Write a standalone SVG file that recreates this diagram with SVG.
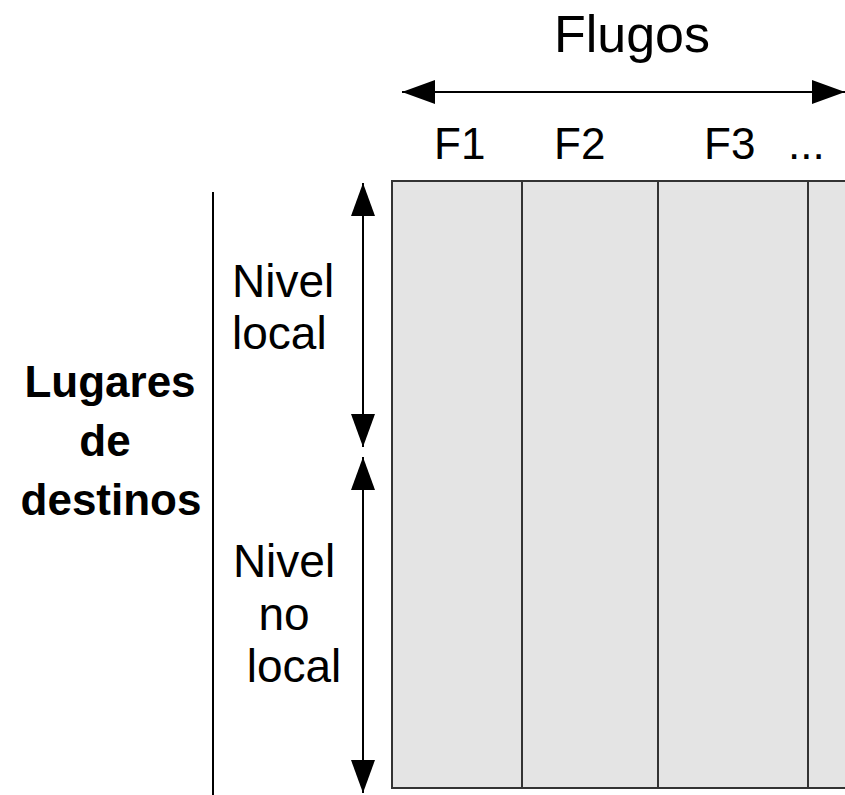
<svg xmlns="http://www.w3.org/2000/svg" width="845" height="795" viewBox="0 0 845 795">
  <style>
    .lbl { font-family: "Liberation Sans", Arial, sans-serif; fill: #000; }
    .bold { font-family: "Liberation Sans", Arial, sans-serif; font-weight: bold; fill: #000; }
    .ln { stroke: #000; stroke-width: 2; fill: none; }
    .cell { fill: #e4e4e4; stroke: #333; stroke-width: 2; }
  </style>
  <defs>
    <marker id="ah" markerUnits="userSpaceOnUse" markerWidth="34" markerHeight="24" refX="33" refY="12" orient="auto-start-reverse">
      <path d="M0,0 L33,12 L0,24 Z" fill="#000"/>
    </marker>
  </defs>
  <rect width="845" height="795" fill="#fff"/>

  <g id="grid">
    <rect class="cell" x="392" y="181" width="470" height="607"/>
    <line class="cell" x1="522" y1="181" x2="522" y2="788"/>
    <line class="cell" x1="658" y1="181" x2="658" y2="788"/>
    <line class="cell" x1="808" y1="181" x2="808" y2="788"/>
  </g>

  <g id="flugos">
    <text class="lbl" x="632" y="52" font-size="52" text-anchor="middle">Flugos</text>
  </g>
  <g id="columns">
    <text class="lbl" x="434" y="159" font-size="44">F1</text>
    <text class="lbl" x="554" y="159" font-size="44">F2</text>
    <text class="lbl" x="704" y="159" font-size="44">F3</text>
    <text class="lbl" x="788" y="159" font-size="44">...</text>
  </g>

  <g id="lugares">
    <text class="bold" x="110" y="397" font-size="44" text-anchor="middle">Lugares</text>
    <text class="bold" x="105" y="456" font-size="44" text-anchor="middle">de</text>
    <text class="bold" x="111" y="515" font-size="44" text-anchor="middle">destinos</text>
  </g>

  <g id="nivel-local">
    <text class="lbl" x="232" y="297" font-size="46">Nivel</text>
    <text class="lbl" x="232" y="349" font-size="46">local</text>
  </g>

  <g id="nivel-no-local">
    <text class="lbl" x="284" y="577" font-size="46" text-anchor="middle">Nivel</text>
    <text class="lbl" x="284" y="630" font-size="46" text-anchor="middle">no</text>
    <text class="lbl" x="294" y="682" font-size="46" text-anchor="middle">local</text>
  </g>

  <g id="connectors">
    <line class="ln" x1="213" y1="192" x2="213" y2="795"/>
    <line class="ln" x1="402" y1="92" x2="845" y2="92" marker-start="url(#ah)" marker-end="url(#ah)"/>
    <line class="ln" x1="363" y1="183" x2="363" y2="447" marker-start="url(#ah)" marker-end="url(#ah)"/>
    <line class="ln" x1="363" y1="457" x2="363" y2="793" marker-start="url(#ah)" marker-end="url(#ah)"/>
  </g>
</svg>
